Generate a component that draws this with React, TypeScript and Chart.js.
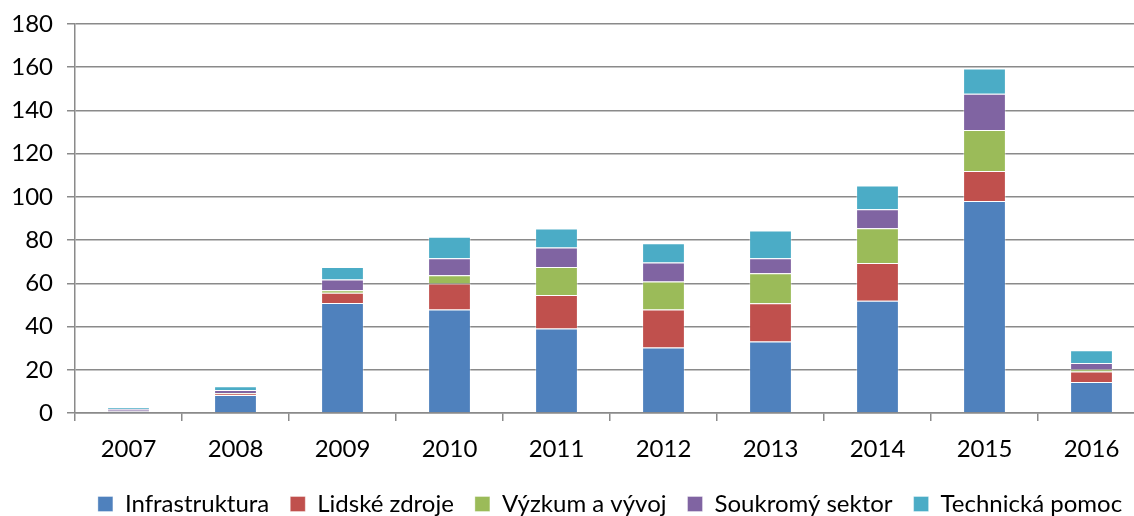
import React, { useEffect, useRef } from "react";
import { Chart, registerables } from "chart.js";

Chart.register(...registerables);

const years = ["2007", "2008", "2009", "2010", "2011", "2012", "2013", "2014", "2015", "2016"];
const infrastruktura = [0.7, 8.3, 50.9, 47.9, 39.1, 30.3, 33.1, 51.9, 98.1, 14.4];
const lidskeZdroje = [0.2, 0.7, 4.7, 12.0, 15.5, 17.6, 17.7, 17.5, 13.9, 4.8];
const vyzkumAVyvoj = [0.1, 0.2, 1.2, 3.8, 13.0, 12.9, 13.9, 16.1, 18.9, 1.0];
const soukromySektor = [0.9, 1.4, 5.0, 7.9, 9.0, 8.8, 6.9, 8.8, 16.8, 2.9];
const technickaPomoc = [0.6, 1.8, 5.8, 9.9, 8.8, 9.0, 12.8, 11.0, 11.7, 5.9];
const seriesNames = ["Infrastruktura", "Lidské zdroje", "Výzkum a vývoj", "Soukromý sektor", "Technická pomoc"];
const seriesColors = ["#4F81BD", "#C0504D", "#9BBB59", "#8064A2", "#4BACC6"];

const FONT = "Lato";
const GRID = "#8a8a8a";

export default function App() {
  const ref = useRef<HTMLCanvasElement | null>(null);
  useEffect(() => {
    if (!ref.current) return;
    const values = [infrastruktura, lidskeZdroje, vyzkumAVyvoj, soukromySektor, technickaPomoc];
    const chart = new Chart(ref.current, {
      type: "bar",
      data: {
        labels: years,
        datasets: values.map((v, i) => ({
          label: seriesNames[i],
          data: v,
          backgroundColor: seriesColors[i],
          borderColor: "rgba(255,255,255,0.35)",
          borderWidth: 1,
          categoryPercentage: 1,
          barPercentage: 0.4,
        })),
      },
      options: {
        responsive: false,
        animation: false,
        devicePixelRatio: 1,
        layout: { padding: { top: 24, right: 5, left: 0, bottom: 0 } },
        plugins: {
          legend: {
            position: "bottom",
            fullSize: false,
            labels: {
              boxWidth: 15,
              boxHeight: 15,
              padding: 21,
              color: "#000",
              font: { family: FONT, size: 24 },
            },
          },
          tooltip: { enabled: false },
        },
        scales: {
          x: {
            stacked: true,
            grid: {
              display: true,
              drawOnChartArea: false,
              drawTicks: true,
              tickLength: 8,
              color: GRID,
              lineWidth: 1.5,
              offset: true,
            },
            border: { display: true, color: GRID, width: 1.5 },
            ticks: { color: "#000", font: { family: FONT, size: 24 }, padding: 14, maxRotation: 0 },
            afterFit: (s: any) => {
              s.height = 58;
            },
          },
          y: {
            stacked: true,
            min: 0,
            max: 180,
            ticks: { stepSize: 20, color: "#000", font: { family: FONT, size: 24 }, padding: 14 },
            grid: { color: GRID, lineWidth: 1.5, tickLength: 8, drawTicks: true },
            border: { display: true, color: GRID, width: 1.5 },
            afterFit: (s: any) => {
              s.width = 75;
              s.paddingTop = 0;
              s.paddingBottom = 0;
            },
          },
        },
      },
    });
    return () => chart.destroy();
  }, []);
  return (
    <div style={{ position: "fixed", left: 0, top: 0, width: 1134, height: 516, overflow: "hidden", background: "#fff" }}>
      <canvas ref={ref} width={1150} height={526} style={{ display: "block" }} />
    </div>
  );
}
